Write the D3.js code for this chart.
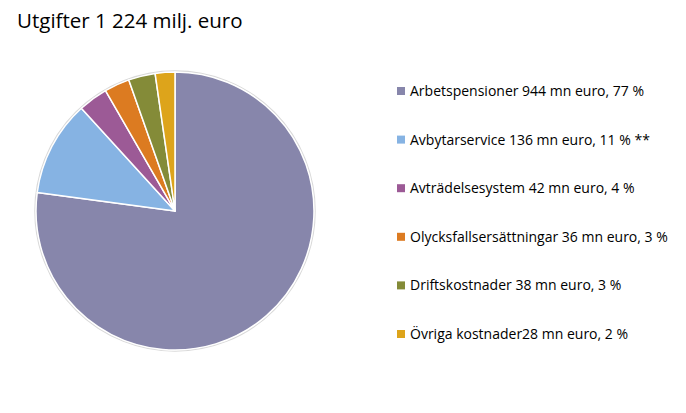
<!DOCTYPE html>
<html><head><meta charset="utf-8">
<script src="https://cdn.jsdelivr.net/npm/d3@7"></script>
<style>body{margin:0;background:#fff;} svg{display:block;}</style>
</head><body>
<svg id="chart" width="686" height="413"></svg>
<script>
const categories = ["Arbetspensioner 944 mn euro, 77 %","Avbytarservice 136 mn euro, 11 % **","Avträdelsesystem 42 mn euro, 4 %","Olycksfallsersättningar 36 mn euro, 3 %","Driftskostnader 38 mn euro, 3 %","Övriga kostnader28 mn euro, 2 %"];
const values = [944,136,42,36,38,28];
const colors = ["#8786ab","#86b3e3","#9c5a96","#dc7b21","#848b38","#dda41b"];
const title = "Utgifter 1 224 milj. euro";

const svg = d3.select("#chart");
const font = "'Open Sans', 'Liberation Sans', Arial, sans-serif";
svg.append("text").attr("x",17).attr("y",28).attr("font-family",font).attr("font-size",20.5).attr("fill","#000").text(title);

const cx=175, cy=211, r=139;
const pie = d3.pie().sort(null).value(d=>d)(values);
const arc = d3.arc().innerRadius(0).outerRadius(r);
const g = svg.append("g").attr("transform",`translate(${cx},${cy})`);
g.append("circle").attr("r",r+1).attr("fill","none").attr("stroke","#d9d9d9").attr("stroke-width",1.5);
g.selectAll("path").data(pie).join("path").attr("d",arc).attr("fill",(d,i)=>colors[i]).attr("stroke","#fff").attr("stroke-width",1.5).attr("stroke-linejoin","round");

const y = d3.scalePoint().domain(categories).range([91,334]);
const lg = svg.append("g");
categories.forEach((c,i)=>{
  lg.append("rect").attr("x",397).attr("y",y(c)-4).attr("width",8).attr("height",8).attr("fill",colors[i]);
  lg.append("text").attr("x",410).attr("y",y(c)+5).attr("font-family",font).attr("font-size",14).attr("fill","#000").text(c);
});
</script>
</body></html>
